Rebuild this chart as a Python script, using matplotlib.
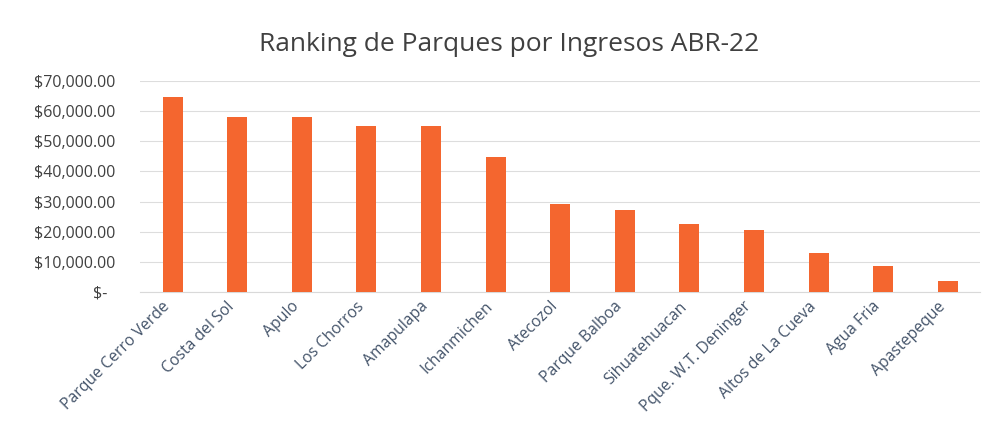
import matplotlib
matplotlib.use("Agg")
import matplotlib.pyplot as plt
import matplotlib.transforms as mtransforms
from matplotlib.ticker import FuncFormatter

parks = ["Parque Cerro Verde", "Costa del Sol", "Apulo", "Los Chorros", "Amapulapa",
         "Ichanmichen", "Atecozol", "Parque Balboa", "Sihuatehuacan",
         "Pque. W.T. Deninger", "Altos de La Cueva", "Agua Fria", "Apastepeque"]
income = [64800, 58000, 58000, 55200, 55200, 44800, 29300, 27300, 22600,
          20600, 12900, 8700, 3600]
yticks = [0, 10000, 20000, 30000, 40000, 50000, 60000, 70000]

plt.rcParams['font.family'] = ['Open Sans', 'DejaVu Sans']
fig = plt.figure(figsize=(9.95, 4.43), dpi=100)
ax = fig.add_axes([0.141, 0.341, 0.844, 0.476])

x = range(len(parks))
ax.bar(x, income, width=0.31, color='#F4662F', zorder=3)
ax.set_xlim(-0.5, len(parks) - 0.5)
ax.set_ylim(0, 70000)
ax.set_yticks(yticks)

def fmt(v, pos):
    if v == 0:
        return "$-  "
    return "${:,.2f}".format(v)

ax.yaxis.set_major_formatter(FuncFormatter(fmt))
ax.grid(axis='y', color='#DDDDDD', linewidth=0.8, zorder=0)
for s in ['top', 'right', 'left']:
    ax.spines[s].set_visible(False)
ax.spines['bottom'].set_color('#D9D9D9')
ax.tick_params(axis='y', length=0, pad=18, labelsize=11.5, labelcolor='#404040')
ax.tick_params(axis='x', length=0, pad=9, labelsize=11.3, labelcolor='#44546A')
ax.set_xticks(list(x))
ax.set_xticklabels(parks, rotation=45, ha='right', va='center', rotation_mode='anchor')
offset = mtransforms.ScaledTranslation(-5 / 100, 0, fig.dpi_scale_trans)
for lbl in ax.get_xticklabels():
    lbl.set_transform(lbl.get_transform() + offset)

fig.text(0.512, 0.9, "Ranking de Parques por Ingresos ABR-22", ha='center', va='center',
         fontsize=19, color='#404040')

fig.savefig("out.png", dpi=100, facecolor='white')
